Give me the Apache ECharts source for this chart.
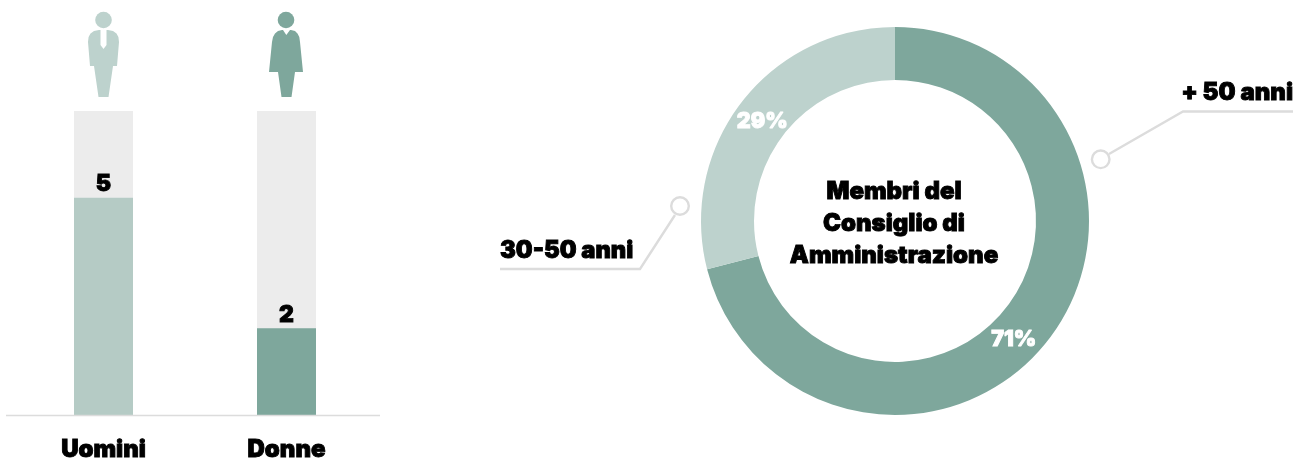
<!DOCTYPE html>
<html><head><meta charset="utf-8">
<style>html,body{margin:0;padding:0;background:#fff}#c{width:1306px;height:459px}</style>
<script src="https://cdn.jsdelivr.net/npm/echarts@6/dist/echarts.min.js"></script>
</head><body><div id="c"></div>
<script>
const categories = ['Uomini', 'Donne'];
const counts = [5, 2];
const totals = [7, 7];
const barColors = ['#b5cbc5', '#7ea79c'];
const ageNames = ['+ 50 anni', '30-50 anni'];
const agePercents = [71, 29];
const ageColors = ['#7ea79c', '#bdd2cd'];
const centerTitle = 'Membri del\nConsiglio di\nAmministrazione';
const FONT = 'Inter';
const W = 900;
const TH = 0.9;

const manBody = [[88,42],[88.6,37],[90.5,33.5],[94,31],[99,30],[108,30],[113,31],[116.5,33.5],[118.4,37],[119,42],[117,66],[113,66],[108.5,97],[98.5,97],[94,66],[90,66]];
const manTie = [[100.5,30],[106.5,30],[106.5,45],[103.5,49],[100.5,45]];
const womanBody = [[272,42],[273,37],[275,33.5],[278,31],[282,30],[283,30],[286.3,35],[290,30],[291,30],[295,31],[297.5,33.5],[299.3,37],[300,42],[303,72],[295,72],[291.5,97],[281.5,97],[278,72],[269,72]];

const chart = echarts.init(document.getElementById('c'), null, {renderer: 'canvas'});
chart.setOption({
  animation: false,
  grid: {left: 12, top: 111, width: 366, height: 304, outerBoundsMode: 'none'},
  xAxis: {type: 'category', data: categories, axisLine: {show: false}, axisTick: {show: false},
    axisLabel: {margin: 23, color: '#000', fontFamily: FONT, fontWeight: W, fontSize: 24, textBorderColor: '#000', textBorderWidth: TH}},
  yAxis: {type: 'value', min: 0, max: 7, show: false},
  series: [
    {type: 'bar', data: totals, barWidth: 59, barGap: '-100%', itemStyle: {color: '#ececec'}, silent: true},
    {type: 'bar', data: counts.map((v, i) => ({value: v, itemStyle: {color: barColors[i]}})), barWidth: 59,
      label: {show: true, position: 'top', distance: 2, color: '#000', fontFamily: FONT, fontWeight: W, fontSize: 23, textBorderColor: '#000', textBorderWidth: TH}},
    {type: 'pie', center: [895, 221], radius: [141, 194], startAngle: 90, clockwise: true, silent: true,
      data: ageNames.map((n, i) => ({
        name: n, value: agePercents[i], itemStyle: {color: ageColors[i]},
        label: {offset: i === 0 ? [-16, 14] : [2, 5]}
      })),
      label: {show: true, position: 'inside', formatter: '{c}%', color: '#fff', fontFamily: FONT, fontWeight: W, fontSize: 21.5, textBorderColor: '#fff', textBorderWidth: TH},
      labelLine: {show: false}}
  ],
  graphic: [
    {type: 'line', shape: {x1: 6, y1: 415.5, x2: 380, y2: 415.5}, style: {stroke: '#dcdcdc', lineWidth: 1.3}, z: 10},
    {type: 'circle', shape: {cx: 103.5, cy: 20, r: 8.3}, style: {fill: ageColors[1]}},
    {type: 'polygon', shape: {points: manBody}, style: {fill: ageColors[1]}},
    {type: 'polygon', shape: {points: manTie}, style: {fill: '#fff'}},
    {type: 'circle', shape: {cx: 286, cy: 20, r: 8.3}, style: {fill: ageColors[0]}},
    {type: 'polygon', shape: {points: womanBody}, style: {fill: ageColors[0]}},
    {type: 'text', style: {x: 894, y: 224, text: centerTitle, align: 'center', verticalAlign: 'middle', fill: '#000',
      font: W + ' 24px ' + FONT, lineHeight: 32, stroke: '#000', lineWidth: TH}},
    {type: 'polyline', shape: {points: [[1109, 154], [1183, 111.5], [1293, 111.5]]}, style: {fill: 'none', stroke: '#dcdcdc', lineWidth: 2.4}},
    {type: 'circle', shape: {cx: 1100.7, cy: 159.3, r: 8.8}, style: {fill: '#fff', stroke: '#dcdcdc', lineWidth: 2.4}},
    {type: 'text', style: {x: 1293, y: 93, text: ageNames[0], align: 'right', verticalAlign: 'middle', fill: '#000',
      font: W + ' 24px ' + FONT, stroke: '#000', lineWidth: TH}},
    {type: 'polyline', shape: {points: [[675, 215], [640, 269], [500, 269]]}, style: {fill: 'none', stroke: '#dcdcdc', lineWidth: 2.4}},
    {type: 'circle', shape: {cx: 680, cy: 206, r: 8.8}, style: {fill: '#fff', stroke: '#dcdcdc', lineWidth: 2.4}},
    {type: 'text', style: {x: 500, y: 250.5, text: ageNames[1], align: 'left', verticalAlign: 'middle', fill: '#000',
      font: '900 23.7px ' + FONT, stroke: '#000', lineWidth: TH}}
  ]
});
</script></body></html>
